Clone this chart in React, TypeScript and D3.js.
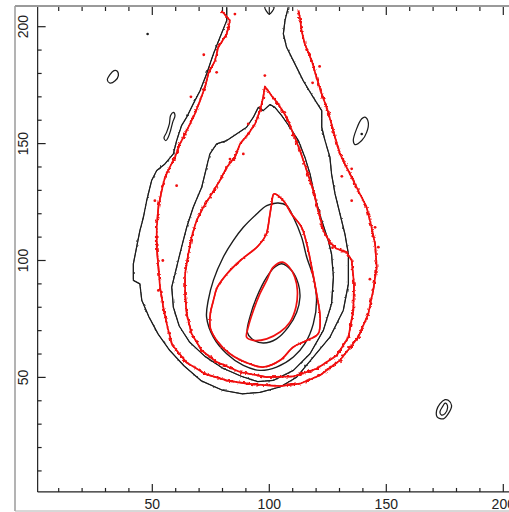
import React from 'react';
import * as d3 from 'd3';

type Pt = [number, number];

// contour traces, data units (x, y)
const blackLevel1: Pt[] = [
  [81.8, 208.3], [81.8, 202.6], [78.9, 195.4], [76.1, 188.3], [73.2, 179.8], [70.4, 172.6],
  [67.5, 167.0], [64.7, 161.3], [62.5, 157.7], [60.4, 151.3], [59.0, 145.6], [55.4, 141.3],
  [51.9, 138.5], [49.7, 134.2], [47.6, 125.6], [46.2, 118.5], [44.7, 112.8], [43.3, 105.7],
  [41.9, 98.6], [41.9, 91.5], [44.7, 90.0], [45.5, 83.0], [48.5, 76.0], [52.5, 68.5],
  [57.5, 61.5], [63.5, 55.0], [71.0, 48.5], [80.0, 44.5], [88.5, 43.0], [96.0, 43.6],
  [104.6, 45.9], [111.7, 50.1], [118.8, 58.7], [125.9, 67.2], [131.6, 78.6], [133.8, 90.0],
  [133.8, 102.8], [132.3, 111.4], [130.2, 119.9], [128.1, 128.5], [126.6, 137.0], [125.9, 144.2],
  [123.8, 151.3], [122.4, 157.0], [122.4, 164.1], [118.8, 169.8], [114.5, 176.9], [111.0, 184.0],
  [107.4, 191.2], [106.0, 196.9], [106.7, 202.6], [108.1, 208.3],
];

const blackLevel2: Pt[] = [
  [100.3, 166.7], [97.4, 164.1], [95.3, 165.5], [93.2, 161.3], [90.3, 157.0], [86.0, 154.1],
  [81.8, 151.3], [77.5, 149.9], [74.6, 145.6], [73.2, 139.9], [71.1, 131.3], [67.5, 122.8],
  [64.7, 114.2], [62.5, 105.7], [60.4, 97.2], [58.3, 88.6], [59.0, 80.0], [61.5, 72.0],
  [66.0, 65.0], [72.5, 59.0], [80.0, 54.0], [88.0, 50.5], [95.0, 48.2], [101.7, 48.7], [110.3, 53.0],
  [117.4, 60.1], [123.1, 70.1], [126.6, 81.5], [127.4, 92.9], [126.6, 102.8], [125.2, 108.5],
  [122.4, 117.1], [119.5, 127.1], [117.4, 137.0], [115.2, 144.2], [112.4, 151.3], [108.8, 157.0],
  [105.3, 162.0], [102.4, 165.5],
];

const blackLevel3: Pt[] = [
  [103.8, 124.6], [98.9, 123.5], [94.6, 119.9], [88.9, 114.2], [84.6, 108.5], [80.3, 101.4],
  [76.1, 91.5], [73.9, 82.9], [73.2, 75.8], [76.1, 67.2], [81.8, 60.1], [88.9, 55.1],
  [96.0, 53.0], [103.1, 54.4], [110.3, 58.7], [115.2, 64.4], [118.8, 72.9], [120.2, 82.9],
  [118.8, 92.9], [116.0, 101.4], [113.8, 110.0], [110.3, 118.5], [107.4, 123.5],
];

const blackLevel4: Pt[] = [
  [105.3, 98.6], [109.5, 95.7], [112.4, 90.0], [113.1, 84.3], [111.7, 77.9], [108.1, 71.5],
  [103.1, 66.5], [97.4, 64.7], [92.5, 66.5], [90.6, 69.4], [91.7, 75.8], [94.6, 84.3],
  [98.9, 92.9], [102.4, 97.2],
];

const blackIslands: Pt[][] = [
  [[34.8, 181.2], [35.5, 179.1], [34.1, 176.9], [31.9, 175.9], [30.8, 177.2], [31.9, 179.5], [33.6, 181.2]],
  [[59.0, 163.4], [59.7, 162.0], [58.7, 159.1], [57.8, 155.6], [56.8, 152.7], [55.8, 151.3],
   [55.0, 152.4], [56.1, 154.8], [57.3, 158.4], [57.8, 162.0]],
  [[140.9, 161.3], [142.3, 159.1], [141.6, 154.8], [139.5, 151.3], [136.6, 149.6], [135.9, 151.3],
   [137.3, 156.3], [139.5, 160.6]],
  [[176.5, 40.2], [177.9, 38.0], [176.5, 34.5], [174.4, 32.3], [171.8, 33.0], [171.5, 35.9],
   [172.9, 38.7], [175.1, 40.5]],
  [[175.8, 38.7], [176.2, 37.0], [175.1, 34.5], [173.6, 33.9], [172.9, 35.2], [174.1, 37.6], [175.1, 39.0]],
  [[98.1, 208.5], [100.0, 205.4], [102.0, 208.3]],
];

const blackDots: Pt[] = [[48.0, 196.9], [139.5, 154.1]];

const redLevel1: Pt[] = [
  [79.6, 206.8], [83.2, 202.6], [81.8, 196.9], [78.2, 191.2], [76.8, 185.5], [73.9, 179.8],
  [72.5, 174.1], [70.4, 168.4], [68.2, 162.7], [66.1, 158.4], [64.0, 154.1], [61.8, 149.9],
  [59.7, 144.2], [57.5, 139.9], [55.4, 135.6], [54.0, 129.9], [52.6, 122.8], [51.9, 114.2],
  [51.9, 105.7], [52.6, 97.2], [53.3, 88.6], [54.7, 80.1], [56.5, 71.5], [58.5, 64.0],
  [64.5, 56.5], [72.5, 51.5], [82.5, 48.5], [93.2, 47.0], [104.6, 46.3], [113.1, 47.3],
  [121.7, 50.9], [130.2, 57.3], [138.0, 67.2], [142.3, 77.2], [144.4, 87.2], [145.9, 97.2],
  [145.2, 107.1], [143.7, 114.2], [141.6, 122.8], [138.7, 128.5], [135.9, 134.2], [133.0, 139.9],
  [130.2, 145.6], [128.1, 152.7], [126.6, 158.4], [124.5, 165.5], [122.4, 171.2], [120.2, 178.3],
  [118.1, 185.5], [115.2, 192.6], [113.8, 198.3], [113.1, 204.0], [112.4, 206.8],
];

const redLevel2: Pt[] = [
  [98.1, 174.4], [97.4, 169.8], [96.0, 164.1], [93.9, 158.4], [91.0, 154.1], [87.5, 149.9],
  [85.3, 144.2], [81.8, 139.9], [78.9, 134.2], [75.4, 128.5], [71.8, 122.8], [68.9, 117.1],
  [66.8, 110.0], [65.4, 102.8], [64.0, 94.3], [64.0, 85.8], [64.7, 77.2], [66.8, 68.7],
  [71.1, 61.5], [77.5, 56.6], [87.5, 52.3], [98.9, 50.1], [110.3, 50.4], [120.2, 53.7],
  [128.8, 59.4], [133.8, 67.2], [135.9, 78.6], [136.2, 90.0], [135.2, 100.0], [133.0, 103.6],
  [128.8, 105.0], [125.9, 107.8], [123.1, 112.8], [120.9, 121.4], [118.8, 129.9], [116.0, 138.5],
  [113.1, 147.0], [110.3, 154.1], [107.4, 161.3], [103.8, 167.0], [101.0, 170.5],
];

const redLevel3: Pt[] = [
  [102.0, 128.5], [101.0, 124.2], [100.0, 118.0], [98.6, 111.0], [95.0, 106.0], [87.6, 100.0],
  [82.0, 94.4], [77.7, 88.4], [76.1, 82.8], [74.8, 77.2], [74.8, 71.2], [77.7, 65.6],
  [83.3, 60.0], [91.8, 55.7], [97.4, 54.4], [104.6, 57.3], [110.3, 63.0], [116.0, 65.8],
  [120.9, 68.7], [121.7, 75.8], [120.2, 85.8], [118.1, 97.2], [116.0, 107.1], [113.8, 114.2],
  [109.5, 119.9], [106.0, 125.6],
];

const redLevel4: Pt[] = [
  [105.7, 99.3], [101.7, 97.2], [98.9, 91.5], [96.0, 85.8], [93.2, 78.6], [91.0, 71.5],
  [90.3, 67.2], [93.2, 65.8], [98.9, 66.5], [104.6, 69.4], [108.8, 73.6], [111.4, 80.1],
  [112.0, 87.2], [110.9, 92.9], [108.5, 97.2],
];

const redSpeckles: Pt[] = [
  [98.1, 179.1], [77.5, 180.5], [85.3, 205.4], [146.6, 105.7], [135.2, 139.2], [135.2, 125.6],
  [91.0, 158.4], [83.2, 143.4], [52.6, 87.2], [57.5, 66.5], [51.1, 125.6], [145.2, 114.2],
  [88.9, 145.6], [127.4, 154.8], [60.4, 132.0], [131.0, 136.0], [72.0, 188.0], [66.5, 170.0],
  [121.5, 183.0], [118.5, 176.0], [143.0, 92.0], [54.5, 100.0], [127.0, 105.5], [131.5, 104.0],
];

const tickValues = d3.range(10, 210, 10);
const labelValues = [50, 100, 150, 200];

export default function App() {
  const W = 509;
  const H = 512;
  const x = d3.scaleLinear().domain([0, 200]).range([35.3, 503.3]);
  const y = d3.scaleLinear().domain([0, 200]).range([494.3, 26.7]);
  const left = x(1);
  const bottom = y(1);
  const top = 7;

  const openLine = d3.line<Pt>().x((d) => x(d[0])).y((d) => y(d[1]));
  const closedLine = d3.line<Pt>().x((d) => x(d[0])).y((d) => y(d[1])).curve(d3.curveLinearClosed);
  const smoothClosed = d3
    .line<Pt>()
    .x((d) => x(d[0]))
    .y((d) => y(d[1]))
    .curve(d3.curveCatmullRomClosed.alpha(0.5));

  const font = 'Liberation Sans, Arial, sans-serif';
  const red = '#f01010';
  const ink = '#1c1c1c';

  return (
    <svg width={W} height={H} style={{ position: 'fixed', left: 0, top: 0, background: '#fff' }}>
      <defs>
        <filter id="roughRed" filterUnits="userSpaceOnUse" x="0" y="0" width={W} height={H}>
          <feTurbulence type="fractalNoise" baseFrequency="0.35" numOctaves="2" seed="4" />
          <feDisplacementMap in="SourceGraphic" scale="5" xChannelSelector="R" yChannelSelector="G" />
        </filter>
        <filter id="roughRedSoft" filterUnits="userSpaceOnUse" x="0" y="0" width={W} height={H}>
          <feTurbulence type="fractalNoise" baseFrequency="0.3" numOctaves="2" seed="7" />
          <feDisplacementMap in="SourceGraphic" scale="2.5" xChannelSelector="R" yChannelSelector="G" />
        </filter>
        <filter id="roughBlack" filterUnits="userSpaceOnUse" x="0" y="0" width={W} height={H}>
          <feTurbulence type="fractalNoise" baseFrequency="0.25" numOctaves="2" seed="11" />
          <feDisplacementMap in="SourceGraphic" scale="2.5" xChannelSelector="R" yChannelSelector="G" />
        </filter>
        <clipPath id="plotClip">
          <rect x={left} y={top} width={W - left} height={bottom - top} />
        </clipPath>
      </defs>

      {/* outer grey frame of the scanned figure */}
      <line x1={15} x2={15} y1={6} y2={511} stroke="#9a9a9a" strokeWidth={1.5} />
      <line x1={15} x2={W} y1={6} y2={6} stroke="#9a9a9a" strokeWidth={2} />
      <line x1={15} x2={W} y1={511} y2={511} stroke="#b0b0b0" strokeWidth={1} />

      <g clipPath="url(#plotClip)" fill="none" strokeLinejoin="round">
        <g stroke={ink} strokeWidth={1.25}>
          <path d={openLine(blackLevel1) || ''} />
          <path d={openLine(blackLevel1) || ''} filter="url(#roughBlack)" strokeWidth={0.8} />
          <path d={closedLine(blackLevel2) || ''} />
          <path d={closedLine(blackLevel2) || ''} filter="url(#roughBlack)" strokeWidth={0.8} />
          <path d={smoothClosed(blackLevel3) || ''} strokeWidth={1.4} />
          <path d={smoothClosed(blackLevel4) || ''} strokeWidth={1.4} />
          {blackIslands.map((isl, i) => (
            <path key={i} d={smoothClosed(isl) || ''} />
          ))}
        </g>
        {blackDots.map((d, i) => (
          <circle key={i} cx={x(d[0])} cy={y(d[1])} r={1.3} fill={ink} />
        ))}
        <g stroke={red} strokeWidth={1.7}>
          <path d={openLine(redLevel1) || ''} />
          <path d={openLine(redLevel1) || ''} filter="url(#roughRed)" strokeWidth={1.6} />
          <path d={closedLine(redLevel2) || ''} />
          <path d={closedLine(redLevel2) || ''} filter="url(#roughRed)" strokeWidth={1.6} />
          <path d={smoothClosed(redLevel3) || ''} />
          <path d={smoothClosed(redLevel3) || ''} filter="url(#roughRedSoft)" strokeWidth={1.4} />
          <path d={smoothClosed(redLevel4) || ''} />
        </g>
        {redSpeckles.map((d, i) => (
          <circle key={i} cx={x(d[0])} cy={y(d[1])} r={1.4} fill={red} />
        ))}
      </g>

      {/* axes */}
      <g stroke="#222" strokeWidth={1.2}>
        <line x1={left} x2={left} y1={top} y2={bottom} />
        <line x1={left} x2={W} y1={bottom} y2={bottom} />
        {tickValues.map((t) => {
          const len = t % 50 === 0 ? 8 : 4;
          return (
            <g key={t}>
              <line x1={x(t)} x2={x(t)} y1={bottom} y2={bottom - len} />
              <line x1={x(t)} x2={x(t)} y1={top} y2={top + len} />
              {y(t) > top && <line x1={left} x2={left + len} y1={y(t)} y2={y(t)} />}
            </g>
          );
        })}
      </g>
      <g fill="#222" fontFamily={font} fontSize={14}>
        {labelValues.map((t) => (
          <text key={'x' + t} x={x(t)} y={509} textAnchor="middle">
            {t}
          </text>
        ))}
        {labelValues.map((t) => (
          <text key={'y' + t} transform={`translate(28,${y(t)}) rotate(-90)`} textAnchor="middle">
            {t}
          </text>
        ))}
      </g>
    </svg>
  );
}
